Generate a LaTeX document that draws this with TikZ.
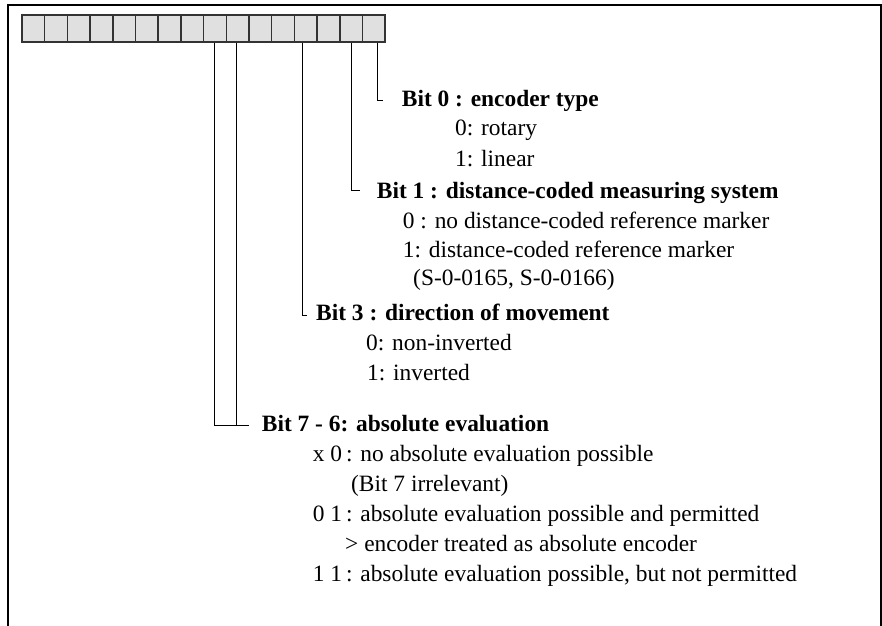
\documentclass[tikz,border=0pt]{standalone}
\usepackage{fontspec}
\setmainfont{Liberation Serif}
\begin{document}
\begin{tikzpicture}[x=1pt,y=-1pt,
  cell/.style={draw=black!80, fill=black!12, line width=1.5pt, minimum width=22.7pt,
    minimum height=27pt, inner sep=0pt},
  txt/.style={anchor=base west, inner sep=0pt, font=\fontsize{23.4}{28}\selectfont},
  head/.style={txt, font=\fontsize{23.4}{28}\selectfont\bfseries},
  lead/.style={line width=0.9pt}]
\useasboundingbox (0,0) rectangle (882,625);
% open frame
\draw[line width=2pt] (7.5,627) -- (7.5,4.5) -- (880.5,4.5) -- (880.5,627);
% register cells, bit 15 on the left, bit 0 on the right
\foreach \b in {0,...,15}
  \node[cell] (b\b) at ({22+22.7*(15-\b+0.5)},28.5) {};
% texts
\node[head] (t0) at (401.7,106.7) {Bit 0 : encoder type};
\node[txt] (t0a) at (455,135) {0: rotary};
\node[txt] (t0b) at (455,166) {1: linear};
\node[head] (t1) at (376.7,198) {Bit 1 : distance-coded measuring system};
\node[txt] (t1a) at (402.7,228) {0 : no distance-coded reference marker};
\node[txt] (t1b) at (402.7,257) {1: distance-coded reference marker};
\node[txt] (t1c) at (413,285) {(S-0-0165, S-0-0166)};
\node[head] (t3) at (316,320.7) {Bit 3 : direction of movement};
\node[txt] (t3a) at (366,350) {0: non-inverted};
\node[txt] (t3b) at (367,380) {1: inverted};
\node[head] (t7) at (261.7,431.7) {Bit 7 - 6: absolute evaluation};
\node[txt] (t7a) at (312.7,461.7) {x 0\,: no absolute evaluation possible};
\node[txt] (t7b) at (351,491.7) {(Bit 7 irrelevant)};
\node[txt] (t7c) at (312.7,521.7) {0 1\,: absolute evaluation possible and permitted};
\node[txt] (t7d) at (345,551.7) {> encoder treated as absolute encoder};
\node[txt] (t7e) at (312.7,581.7) {1 1\,: absolute evaluation possible, but not permitted};
% leader lines
\coordinate (k0) at (383,100.7);
\coordinate (k1) at (360,190);
\coordinate (k3) at (307,315);
\coordinate (k7) at (249.3,425.7);
\draw[lead] ([xshift=3.5pt]b0.south) |- (k0);
\draw[lead] (b1.south) |- (k1);
\draw[lead] ([xshift=-3pt]b3.south) |- (k3);
\draw[lead] ([xshift=-0.5pt]b7.south) |- (k7);
\draw[lead] ([xshift=-1pt]b6.south) -- ([xshift=-1pt]b6.south |- k7);
\end{tikzpicture}
\end{document}
